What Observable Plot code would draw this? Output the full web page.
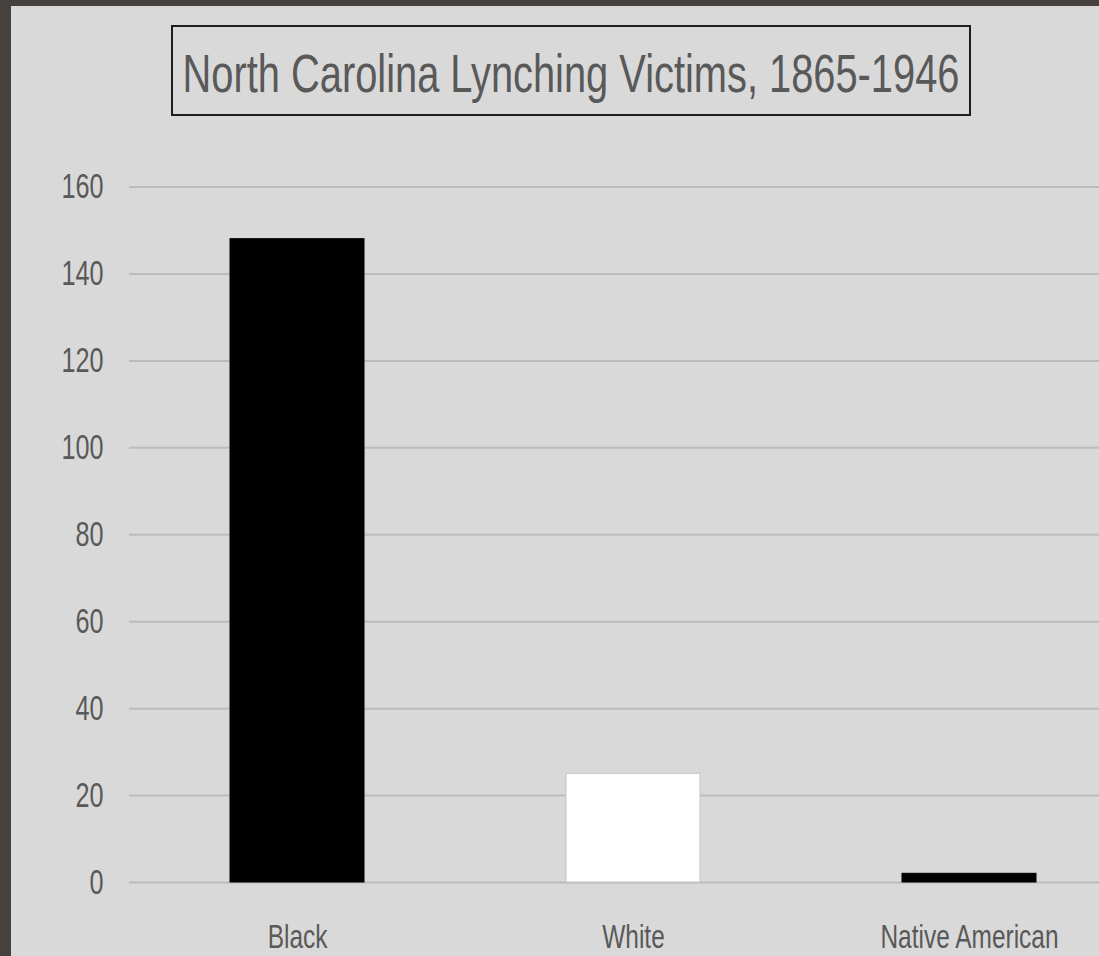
<!DOCTYPE html>
<html>
<head>
<meta charset="utf-8">
<script src="https://cdn.jsdelivr.net/npm/d3@7"></script>
<script src="https://cdn.jsdelivr.net/npm/@observablehq/plot@0.6"></script>
<style>
  html, body { margin: 0; padding: 0; }
  body { width: 1099px; height: 956px; background: #46413d; position: relative; overflow: hidden; font-family: "Liberation Sans", sans-serif; }
  #panel { position: absolute; left: 11px; top: 6px; width: 1088px; height: 950px; background: #d9d9d9; }
  #titlebox { position: absolute; left: 171px; top: 25px; width: 796px; height: 87px; border: 2px solid #1e1e1e; }
  #titlebox svg { position: absolute; left: 0; top: 0; overflow: visible; }
  #chart { position: absolute; left: 0; top: 0; }
</style>
</head>
<body>
<div id="panel"></div>
<div id="chart"></div>
<div id="titlebox">
  <svg width="796" height="87">
    <text id="ttl" text-anchor="middle" font-size="54" fill="#595959"
      font-family="Liberation Sans, sans-serif">North Carolina Lynching Victims, 1865-1946</text>
  </svg>
</div>
<script>
const categories = ["Black", "White", "Native American"];
const victims = [148, 25, 2];
const barColors = ["#000000", "#ffffff", "#000000"];
const yTicks = [0, 20, 40, 60, 80, 100, 120, 140, 160];

const data = categories.map((c, i) => ({category: c, value: victims[i], color: barColors[i]}));

const chart = Plot.plot({
  width: 1099,
  height: 956,
  marginTop: 186.5,
  marginBottom: 74,
  marginLeft: 129,
  marginRight: 0,
  style: {background: "transparent", overflow: "hidden", color: "#595959", fontFamily: "Liberation Sans, sans-serif"},
  x: {domain: categories, range: [129, 1137], paddingInner: 0.6, paddingOuter: 0.3, label: null},
  y: {domain: [0, 160], label: null},
  marks: [
    Plot.ruleY(yTicks, {stroke: "#bcbcbc", strokeWidth: 2}),
    Plot.barY(data, {x: "category", y: "value", fill: "color", stroke: d => d.category === "White" ? "#c4c4c4" : "#000000", strokeWidth: 1}),
    Plot.axisY({ticks: yTicks, tickSize: 0, tickPadding: 26, fontSize: 35, fill: "#595959", label: null}),
    Plot.axisX({tickSize: 0, tickPadding: 41, fontSize: 34, fill: "#595959", label: null})
  ]
});
document.getElementById("chart").appendChild(chart);

// condense the tick labels horizontally about their anchor (the reference uses a narrow face)
const SX = 0.72;
chart.querySelectorAll("text").forEach(t => {
  const r = t.getBoundingClientRect();
  const anchor = getComputedStyle(t).textAnchor;
  const axScreen = anchor === "end" ? r.right : anchor === "middle" ? (r.left + r.right) / 2 : r.left;
  const ctm = t.parentNode.getScreenCTM();
  const ax = (axScreen - ctm.e) / ctm.a;
  const existing = t.getAttribute("transform") || "";
  t.setAttribute("transform", `translate(${ax},0) scale(${SX},1) translate(${-ax},0) ${existing}`);
});

// title: 777px wide, cap height ~39px
const ttl = document.getElementById("ttl");
const natural = ttl.getComputedTextLength();
ttl.setAttribute("transform", `translate(398,65) scale(${777 / natural},1)`);
</script>
</body>
</html>
